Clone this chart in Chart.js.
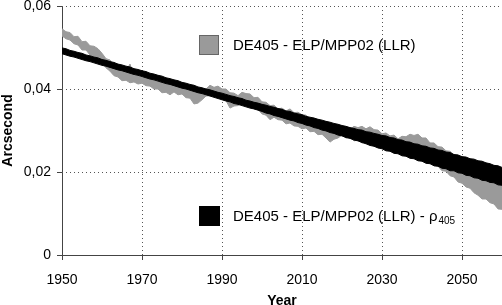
<!DOCTYPE html>
<html><head><meta charset="utf-8">
<script src="https://cdn.jsdelivr.net/npm/chart.js@4/dist/chart.umd.min.js"></script>
<style>html,body{margin:0;padding:0;background:#fff;}canvas{display:block;}</style>
</head><body>
<canvas id="c" width="502" height="305"></canvas>
<script>
const years = [1950,1951,1952,1953,1954,1955,1956,1957,1958,1959,1960,1961,1962,1963,1964,1965,1966,1967,1968,1969,1970,1971,1972,1973,1974,1975,1976,1977,1978,1979,1980,1981,1982,1983,1984,1985,1986,1987,1988,1989,1990,1991,1992,1993,1994,1995,1996,1997,1998,1999,2000,2001,2002,2003,2004,2005,2006,2007,2008,2009,2010,2011,2012,2013,2014,2015,2016,2017,2018,2019,2020,2021,2022,2023,2024,2025,2026,2027,2028,2029,2030,2031,2032,2033,2034,2035,2036,2037,2038,2039,2040,2041,2042,2043,2044,2045,2046,2047,2048,2049,2050,2051,2052,2053,2054,2055,2056,2057,2058,2059,2060];
// DE405 - ELP/MPP02 (LLR): upper / lower envelope of the gray band (arcsec)
const grayUpper = [.0545,.0538,.0536,.0526,.0527,.0514,.0515,.0504,.0503,.0497,
 .0486,.0473,.0470,.0453,.0450,.0444,.0443,.0460,.0432,.0433,
 .0427,.0429,.0424,.0424,.0417,.0419,.0413,.0416,.0410,.0412,
 .0405,.0407,.0400,.0397,.0394,.0400,.0400,.0409,.0404,.0407,
 .0400,.0400,.0391,.0390,.0384,.0392,.0389,.0388,.0379,.0380,
 .0369,.0368,.0360,.0361,.0352,.0354,.0347,.0352,.0343,.0344,
 .0338,.0337,.0328,.0330,.0323,.0323,.0314,.0315,.0306,.0308,
 .0302,.0308,.0303,.0310,.0307,.0310,.0304,.0309,.0302,.0301,
 .0292,.0294,.0287,.0289,.0280,.0286,.0285,.0291,.0288,.0291,
 .0282,.0282,.0270,.0270,.0261,.0260,.0251,.0250,.0241,.0241,
 .0232,.0231,.0222,.0224,.0217,.0219,.0212,.0214,.0208,.0211,
 .0205];
const grayLower = [.0528,.0521,.0518,.0509,.0506,.0494,.0494,.0482,.0479,.0466,
 .0462,.0451,.0443,.0432,.0429,.0420,.0421,.0415,.0417,.0412,
 .0414,.0408,.0407,.0400,.0400,.0391,.0392,.0386,.0393,.0386,
 .0388,.0379,.0378,.0364,.0366,.0374,.0383,.0384,.0390,.0384,
 .0385,.0372,.0354,.0359,.0360,.0366,.0361,.0361,.0352,.0351,
 .0340,.0337,.0326,.0332,.0326,.0325,.0316,.0318,.0311,.0310,
 .0304,.0306,.0297,.0298,.0290,.0291,.0282,.0272,.0279,.0282,
 .0289,.0282,.0284,.0275,.0277,.0270,.0272,.0266,.0265,.0258,
 .0260,.0253,.0255,.0246,.0248,.0241,.0243,.0237,.0236,.0229,
 .0231,.0225,.0224,.0215,.0214,.0203,.0202,.0191,.0188,.0176,
 .0173,.0164,.0161,.0150,.0144,.0135,.0135,.0126,.0123,.0111,
 .0110];
// DE405 - ELP/MPP02 (LLR) - rho405: upper / lower envelope of the black band (arcsec)
const blackUpper = [.0499,.0497,.0493,.0491,.0488,.0486,.0482,.0480,.0477,.0475,
 .0471,.0469,.0466,.0464,.0460,.0458,.0455,.0453,.0449,.0447,
 .0444,.0442,.0438,.0436,.0433,.0431,.0427,.0425,.0422,.0420,
 .0416,.0414,.0411,.0409,.0405,.0403,.0400,.0398,.0395,.0392,
 .0390,.0387,.0384,.0382,.0379,.0377,.0373,.0371,.0368,.0366,
 .0363,.0361,.0358,.0356,.0353,.0351,.0347,.0346,.0342,.0340,
 .0338,.0334,.0332,.0330,.0327,.0325,.0322,.0320,.0317,.0315,
 .0312,.0310,.0307,.0305,.0302,.0301,.0297,.0296,.0293,.0291,
 .0288,.0287,.0283,.0282,.0278,.0277,.0273,.0272,.0268,.0267,
 .0263,.0262,.0258,.0257,.0253,.0252,.0248,.0247,.0242,.0241,
 .0237,.0236,.0232,.0231,.0227,.0226,.0222,.0220,.0216,.0215,
 .0211];
const blackLower = [.0485,.0482,.0479,.0477,.0474,.0471,.0468,.0466,.0463,.0460,
 .0457,.0455,.0452,.0449,.0446,.0444,.0441,.0438,.0435,.0433,
 .0430,.0427,.0424,.0422,.0419,.0416,.0413,.0411,.0408,.0405,
 .0402,.0400,.0397,.0394,.0391,.0389,.0386,.0383,.0380,.0377,
 .0374,.0371,.0369,.0365,.0363,.0360,.0357,.0354,.0352,.0349,
 .0346,.0342,.0340,.0336,.0334,.0331,.0328,.0325,.0323,.0319,
 .0317,.0313,.0311,.0307,.0305,.0301,.0299,.0295,.0293,.0289,
 .0287,.0283,.0281,.0277,.0275,.0271,.0268,.0264,.0262,.0258,
 .0256,.0251,.0250,.0245,.0244,.0239,.0238,.0233,.0232,.0227,
 .0226,.0221,.0220,.0215,.0214,.0209,.0208,.0203,.0203,.0198,
 .0197,.0192,.0191,.0186,.0185,.0180,.0179,.0175,.0174,.0169,
 .0168];
const xTicks = [1950,1970,1990,2010,2030,2050];
const xTickLabels = ['1950','1970','1990','2010','2030','2050'];
const yTicks = [0,0.02,0.04,0.06];
const yTickLabels = ['0','0,02','0,04','0,06'];
const legendLabels = ['DE405 - ELP/MPP02 (LLR)', 'DE405 - ELP/MPP02 (LLR) - \u03C1', '405'];

const GRAY = '#9a9a9a';
const pts = (xs, ys) => xs.map((x,i)=>({x:x, y:ys[i]}));
const lineDs = (data, color, fill) => ({data, borderColor:color, backgroundColor:color, borderWidth:1, pointRadius:0, tension:0, fill});

const FONT = "'Liberation Sans', Arial, sans-serif";

const gridPlugin = {
  id:'dottedGrid',
  beforeDatasetsDraw(chart){
    const {ctx, chartArea:a, scales:{x, y}} = chart;
    ctx.save();
    ctx.strokeStyle = '#555'; ctx.lineWidth = 1; ctx.setLineDash([1,3]);
    xTicks.forEach(v=>{ if (v===1950) return; const px = Math.round(x.getPixelForValue(v))+0.5;
      ctx.beginPath(); ctx.moveTo(px, a.bottom); ctx.lineTo(px, a.top); ctx.stroke(); });
    yTicks.forEach(v=>{ if (v===0) return; const py = Math.round(y.getPixelForValue(v))+0.5;
      ctx.beginPath(); ctx.moveTo(a.left, py); ctx.lineTo(a.right, py); ctx.stroke(); });
    ctx.setLineDash([]); ctx.strokeStyle = '#444';
    xTicks.forEach(v=>{ const px = Math.round(x.getPixelForValue(v))+0.5;
      ctx.beginPath(); ctx.moveTo(px, a.bottom); ctx.lineTo(px, a.bottom+5); ctx.stroke(); });
    yTicks.forEach(v=>{ const py = Math.round(y.getPixelForValue(v))+0.5;
      ctx.beginPath(); ctx.moveTo(a.left-5, py); ctx.lineTo(a.left, py); ctx.stroke(); });
    ctx.restore();
  }
};

const legendPlugin = {
  id:'customLegend',
  afterDraw(chart){
    const ctx = chart.ctx;
    ctx.save();
    ctx.fillStyle = GRAY; ctx.fillRect(199.5,35.5,19,19);
    ctx.strokeStyle = '#666'; ctx.lineWidth = 1; ctx.strokeRect(199.5,35.5,19,19);
    ctx.fillStyle = '#000'; ctx.font = "15px " + FONT; ctx.textBaseline='middle'; ctx.textAlign='left';
    ctx.fillText(legendLabels[0], 233, 46);
    ctx.fillStyle = '#000'; ctx.fillRect(199,206,21,20);
    ctx.fillText(legendLabels[1], 233, 217);
    const w = ctx.measureText(legendLabels[1]).width;
    ctx.font = "10px " + FONT;
    ctx.fillText(legendLabels[2], 233 + w + 1, 221);
    ctx.restore();
  }
};

new Chart(document.getElementById('c'), {
  type:'line',
  data:{ datasets:[
    lineDs(pts(years, blackUpper), '#000', '+1'),
    lineDs(pts(years, blackLower), '#000', false),
    lineDs(pts(years, grayUpper), GRAY, '+1'),
    lineDs(pts(years, grayLower), GRAY, false)
  ]},
  options:{
    responsive:false, animation:false,
    layout:{padding:{left:0,top:6,right:0,bottom:0}},
    plugins:{legend:{display:false}, tooltip:{enabled:false}},
    scales:{
      x:{ type:'linear', min:1950, max:2060,
        afterBuildTicks(s){ s.ticks = xTicks.map(v=>({value:v})); },
        afterFit(s){ s.height = 50; s.paddingLeft = 0; s.paddingRight = 0; },
        ticks:{ color:'#000', font:{family:FONT, size:14}, padding:12, maxRotation:0, autoSkip:false,
          callback:(v)=>xTickLabels[xTicks.indexOf(v)] ?? '' },
        grid:{ color:'rgba(0,0,0,0)', lineWidth:1, tickLength:5, tickColor:'rgba(0,0,0,0)' },
        border:{ display:true, color:'#444', width:1 },
        title:{ display:true, text:'Year', color:'#000', font:{family:FONT, size:14, weight:'bold', lineHeight:0.6}, padding:{top:0,bottom:0} }
      },
      y:{ type:'linear', min:0, max:0.06,
        afterBuildTicks(s){ s.ticks = yTicks.map(v=>({value:v})); },
        afterFit(s){ s.width = 62; s.paddingTop = 0; s.paddingBottom = 0; },
        ticks:{ color:'#000', font:{family:FONT, size:14}, padding:6, callback:(v)=>yTickLabels[yTicks.indexOf(v)] ?? '' },
        grid:{ color:'rgba(0,0,0,0)', lineWidth:1, tickLength:5, tickColor:'rgba(0,0,0,0)' },
        border:{ display:true, color:'#444', width:1 },
        title:{ display:true, text:'Arcsecond', color:'#000', font:{family:FONT, size:14, weight:'bold', lineHeight:1.2}, padding:{top:0,bottom:0} }
      }
    }
  },
  plugins:[gridPlugin, legendPlugin]
});
</script>
</body></html>
